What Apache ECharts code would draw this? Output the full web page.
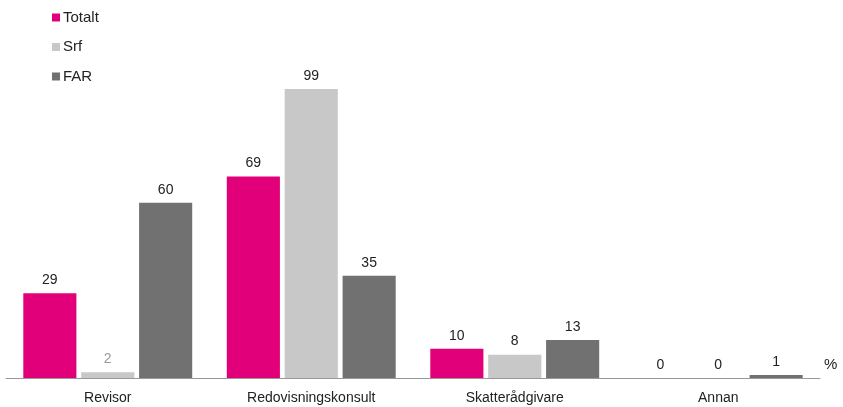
<!DOCTYPE html>
<html><head><meta charset="utf-8">
<script src="https://cdn.jsdelivr.net/npm/echarts@6/dist/echarts.min.js"></script>
<style>html,body{margin:0;padding:0;background:#fff}#c{width:843px;height:407px}</style>
</head><body><div id="c"></div>
<script>
const categories = ['Revisor', 'Redovisningskonsult', 'Skatterådgivare', 'Annan'];
const totalt = [29, 69, 10, 0];
const srf = [2, 99, 8, 0];
const far = [60, 35, 13, 1];
const FONT = '"Liberation Sans Narrow", "Liberation Sans", Arial, sans-serif';
const chart = echarts.init(document.getElementById('c'));
const lbl = {show: true, position: 'top', distance: 6, color: '#222', fontFamily: FONT, fontSize: 14};
chart.setOption({
  animation: false,
  textStyle: {fontFamily: FONT},
  legend: {
    orient: 'vertical', left: 47, top: 5, itemWidth: 8, itemHeight: 8, itemGap: 14.5,
    icon: 'rect', textStyle: {fontFamily: FONT, fontSize: 15, color: '#222', padding: [0,0,0,-2]},
    data: ['Totalt', 'Srf', 'FAR']
  },
  grid: {left: 6, right: 23, top: 86, bottom: 29, containLabel: false},
  xAxis: {
    type: 'category', data: categories,
    axisLine: {lineStyle: {color: '#999', width: 1}}, axisTick: {show: false},
    axisLabel: {color: '#222', fontFamily: FONT, fontSize: 14, margin: 13}
  },
  yAxis: {type: 'value', min: 0, max: 100, show: false, splitLine: {show: false}},
  graphic: [{type: 'text', left: 824, top: 357, style: {text: '%', fontFamily: FONT, fontSize: 15, fill: '#222'}}],
  series: [
    {name: 'Totalt', type: 'bar', data: totalt, itemStyle: {color: '#E2007A'}, barGap: '9%', barCategoryGap: '17%', label: lbl},
    {name: 'Srf', type: 'bar', data: srf.map((v, i) => i === 0 ? {value: v, label: {color: '#999'}} : v), itemStyle: {color: '#C8C8C8'}, label: lbl},
    {name: 'FAR', type: 'bar', data: far, itemStyle: {color: '#717171'}, label: lbl}
  ]
});
</script></body></html>
